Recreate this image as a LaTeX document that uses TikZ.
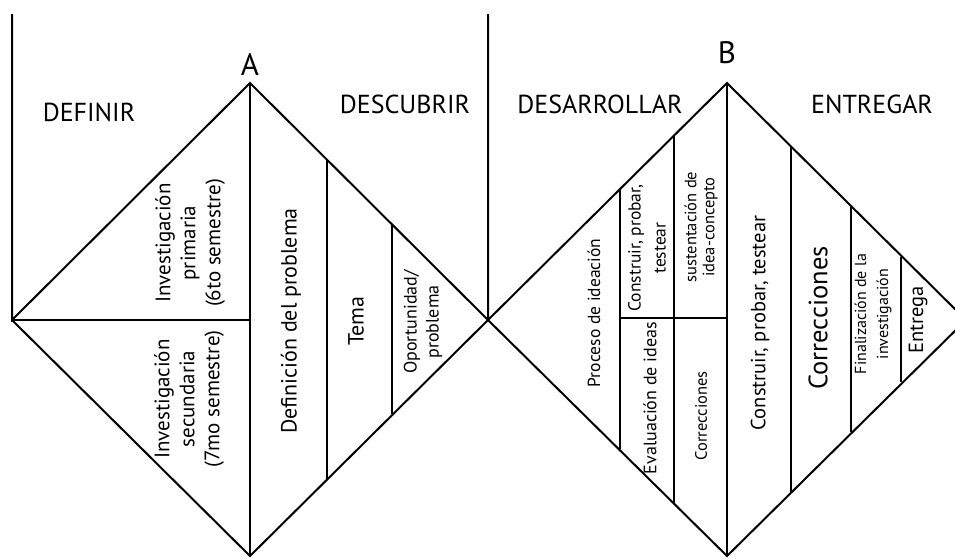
\documentclass[tikz,border=0pt]{standalone}
\usepackage{fontspec}
\setmainfont{PT Sans}

\begin{document}
\begin{tikzpicture}[x=1pt, y=-1pt,
  edge/.style={line width=2pt, line join=miter},
  letter/.style={inner sep=0pt, font=\fontsize{31}{31}\selectfont},
  phase/.style={inner sep=0pt, font=\fontsize{26}{26}\selectfont},
  vlabel/.style={rotate=90, align=center, inner sep=0pt},
]
  \useasboundingbox (0,0) rectangle (955,558);
  \clip (0,0) rectangle (955,558);

  % Diamond A corners
  \coordinate (aT) at (250,83);
  \coordinate (aL) at (12,320);
  \coordinate (aB) at (250,556);
  \coordinate (aR) at (488,320);
  \coordinate (aS) at (12,14);
  \coordinate (aM) at (250,320);

  % Diamond B corners
  \coordinate (bT) at (727,83);
  \coordinate (bL) at (488,320);
  \coordinate (bB) at (727,556);
  \coordinate (bR) at (966,320);
  \coordinate (bS) at (488,14);
  \coordinate (bM) at (727,318);

  % Outlines
  \draw[edge] (aS) -- (aL) -- (aT) -- (aR) -- (aB) -- (aL);
  \draw[edge] (bS) -- (bL) -- (bT) -- (bR) -- (bB) -- (bL);
  \draw[edge] (aT) -- (aB);
  \draw[edge] (bT) -- (bB);
  \draw[edge] (aL) -- (aM);

  % Dividers in A
  \coordinate (a1t) at (327,160);  \coordinate (a1b) at (327,479);
  \coordinate (a2t) at (392,225);  \coordinate (a2b) at (392,414);
  \draw[edge] (a1t) -- (a1b);
  \draw[edge] (a2t) -- (a2b);

  % Dividers in B
  \coordinate (b1t) at (620,190);  \coordinate (b1b) at (620,449);
  \coordinate (b2t) at (674,136);  \coordinate (b2b) at (674,503);
  \coordinate (b1m) at (620,318);
  \coordinate (b3t) at (791,147);  \coordinate (b3b) at (791,492);
  \coordinate (b4t) at (851,207);  \coordinate (b4b) at (851,432);
  \coordinate (b5t) at (901,257);  \coordinate (b5b) at (901,382);
  \draw[edge] (b1t) -- (b1b);
  \draw[edge] (b2t) -- (b2b);
  \draw[edge] (b1m) -- (bM);
  \draw[edge] (b3t) -- (b3b);
  \draw[edge] (b4t) -- (b4b);
  \draw[edge] (b5t) -- (b5b);

  % Headings
  \node[letter] (lblA) at (250,64) {A};
  \node[letter] (lblB) at (727,53) {B};
  \node[phase] (definir) at (89,112) {DEFINIR};
  \node[phase] (descubrir) at (405,104) {DESCUBRIR};
  \node[phase] (desarrollar) at (600,104) {DESARROLLAR};
  \node[phase] (entregar) at (872,104) {ENTREGAR};

  % Labels in A
  \node[vlabel, font=\fontsize{21}{25}\selectfont] (primaria) at (190,243)
    {Investigación\\primaria\\(6to semestre)};
  \node[vlabel, font=\fontsize{21}{25}\selectfont] (secundaria) at (189,399)
    {Investigación\\secundaria\\(7mo semestre)};
  \node[vlabel, font=\fontsize{22}{25}\selectfont] (definicion) at (291,321)
    {Definición del problema};
  \node[vlabel, font=\fontsize{22}{25}\selectfont] (tema) at (356,321) {Tema};
  \node[vlabel, font=\fontsize{18}{22}\selectfont] (oportunidad) at (423,322)
    {Oportunidad/\\problema};

  % Labels in B
  \node[vlabel, font=\fontsize{17.5}{22}\selectfont] (ideacion) at (594,313)
    {Proceso de ideación};
  \node[vlabel, font=\fontsize{17.5}{25}\selectfont] (construir) at (647,248)
    {Construir, probar,\\testear};
  \node[vlabel, font=\fontsize{16.5}{18}\selectfont] (sustentacion) at (701,227)
    {sustentación de\\idea-concepto};
  \node[vlabel, font=\fontsize{18}{22}\selectfont] (evaluacion) at (650,398)
    {Evaluación de ideas};
  \node[vlabel, font=\fontsize{16.5}{22}\selectfont] (correcc) at (701,416)
    {Correcciones};
  \node[vlabel, font=\fontsize{20.5}{25}\selectfont] (probar) at (760,323)
    {Construir, probar, testear};
  \node[vlabel, font=\fontsize{26.5}{30}\selectfont] (correcciones) at (818,318)
    {Correcciones};
  \node[vlabel, font=\fontsize{16}{22}\selectfont] (finalizacion) at (873,314)
    {Finalización de la\\investigación};
  \node[vlabel, font=\fontsize{20.5}{25}\selectfont] (entrega) at (918,320)
    {Entrega};
\end{tikzpicture}
\end{document}
